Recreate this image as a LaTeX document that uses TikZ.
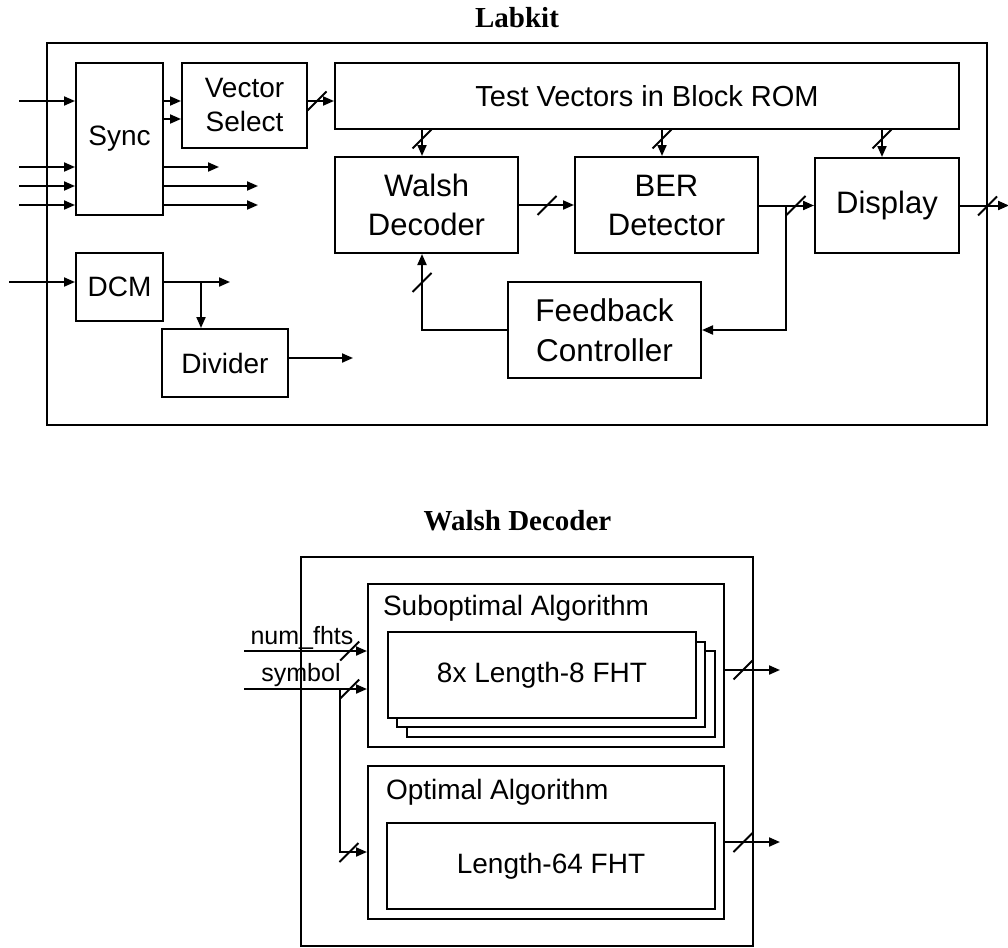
\documentclass[tikz,border=0pt]{standalone}
\usepackage{fontspec}
\setmainfont{Liberation Sans}
\newfontfamily\serifttl{Liberation Serif}
\usetikzlibrary{arrows.meta}
\newcommand\busmark[2]{\draw (#1,#2) ++(-9.5,9.5) -- ++(19,-19);}
\begin{document}
\begin{tikzpicture}[x=1pt,y=-1pt, line width=2pt,
  box/.style={draw, inner sep=0pt, align=center, fill=white},
  frame/.style={draw, inner sep=0pt},
  sig/.style={-{Triangle[length=11pt,width=9pt]}},
  ttl/.style={font=\serifttl\bfseries\fontsize{29}{34}\selectfont, anchor=base},
  f28/.style={font=\fontsize{28}{34}\selectfont},
  f31/.style={font=\fontsize{31}{39}\selectfont},
  lbl/.style={font=\fontsize{25}{30}\selectfont, anchor=base}]
\useasboundingbox (0,0) rectangle (1008,947);

% ---------------- Labkit ----------------
\node[ttl] (t1) at (517,28) {Labkit};
\node[frame, minimum width=940pt, minimum height=382pt] (labkit) at (517,234) {};

\node[box, f28, minimum width=87pt, minimum height=152pt] (sync) at (119.5,139) {Sync};
\node[box, f28, minimum width=125pt, minimum height=85pt] (vsel) at (244.5,105.5) {Vector\\Select};
\node[box, font=\fontsize{29}{34}\selectfont, minimum width=624pt, minimum height=66pt] (rom) at (647,96) {Test Vectors in Block ROM};
\node[box, f31, minimum width=183pt, minimum height=96pt] (walsh) at (426.5,205) {Walsh\\Decoder};
\node[box, f31, minimum width=183pt, minimum height=96pt] (ber) at (666.5,205) {BER\\Detector};
\node[box, f31, minimum width=144pt, minimum height=95pt] (disp) at (887,205.5) {Display};
\node[box, font=\fontsize{31.5}{40}\selectfont, minimum width=193pt, minimum height=96pt] (fb) at (604.5,330) {Feedback\\Controller};
\node[box, f28, minimum width=87pt, minimum height=68pt] (dcm) at (119.5,287) {DCM};
\node[box, f28, minimum width=126pt, minimum height=68pt] (div) at (225,363) {Divider};

% free ends
\coordinate (in1) at (19,101);
\coordinate (in2) at (19,167);
\coordinate (in3) at (19,186);
\coordinate (in4) at (19,205);
\coordinate (o1) at (219,167);
\coordinate (o2) at (258,186);
\coordinate (o3) at (258,205);
\coordinate (dcmin) at (9,282);
\coordinate (dcmout) at (230,282);
\coordinate (dcmbr) at (201,282);
\coordinate (divout) at (353,358);
\coordinate (br) at (786,205.5);
\coordinate (dispout) at (1009,205.5);

\draw[sig] (in1) -- (sync.west |- in1);
\draw[sig] (in2) -- (sync.west |- in2);
\draw[sig] (in3) -- (sync.west |- in3);
\draw[sig] (in4) -- (sync.west |- in4);
\draw[sig] (sync.east |- o1) -- (o1);
\draw[sig] (sync.east |- o2) -- (o2);
\draw[sig] (sync.east |- o3) -- (o3);
\draw[sig] (sync.east |- 0,101) -- (vsel.west |- 0,101);
\draw[sig] (sync.east |- 0,119) -- (vsel.west |- 0,119);

\draw[sig] (vsel.east |- 0,101) -- (rom.west |- 0,101);
\busmark{317}{101}
\draw[sig] (rom.south -| 422,0) -- (walsh.north -| 422,0);
\busmark{422}{139}
\draw[sig] (rom.south -| 662,0) -- (ber.north -| 662,0);
\busmark{662}{139}
\draw[sig] (rom.south -| 882,0) -- (disp.north -| 882,0);
\busmark{882}{139}

\draw[sig] (walsh.east) -- (ber.west);
\busmark{547}{205.5}
\draw[sig] (ber.east |- br) -- (disp.west |- br);
\busmark{796}{205.5}
\draw[sig] (br) |- (fb.east);
\draw[sig] (fb.west) -| (walsh.south -| 422,0);
\busmark{422}{282.5}
\draw[sig] (disp.east |- dispout) -- (dispout);
\busmark{987.5}{206}

\draw[sig] (dcmin) -- (dcm.west |- dcmin);
\draw[sig] (dcm.east |- dcmout) -- (dcmout);
\draw[sig] (dcmbr) -- (div.north -| dcmbr);
\draw[sig] (div.east |- divout) -- (divout);

% ---------------- Walsh Decoder ----------------
\node[ttl] (t2) at (517.5,530) {Walsh Decoder};
\node[frame, minimum width=452pt, minimum height=389pt] (wd) at (527,751) {};

\node[box, minimum width=356pt, minimum height=163pt] (sub) at (546,665.5) {};
\node[f28, anchor=west, inner sep=0pt] (sublbl) at (382,608) {Suboptimal Algorithm};
\node[box, minimum width=308pt, minimum height=86pt] (fht3) at (561,694) {};
\node[box, minimum width=308pt, minimum height=85pt] (fht2) at (551,684.5) {};
\node[box, f28, minimum width=308pt, minimum height=86pt] (fht1) at (542,675) {8x Length-8 FHT};

\node[box, minimum width=356pt, minimum height=153pt] (opt) at (546,842.5) {};
\node[f28, anchor=west, inner sep=0pt] (optlbl) at (385,792) {Optimal Algorithm};
\node[box, f28, minimum width=328pt, minimum height=86pt] (l64) at (551,866) {Length-64 FHT};

\coordinate (nf) at (244,651);
\coordinate (sy) at (244,689);
\coordinate (sybr) at (340,689);
\coordinate (subout) at (780,670);
\coordinate (optout) at (780,842);

\draw[sig] (nf) -- (sub.west |- nf);
\busmark{349.7}{651}
\draw[sig] (sy) -- (sub.west |- sy);
\busmark{349.7}{689}
\draw[sig] (sybr) |- (opt.west |- 0,852);
\busmark{349}{852.5}
\draw[sig] (sub.east |- subout) -- (subout);
\busmark{743}{670}
\draw[sig] (opt.east |- optout) -- (optout);
\busmark{743}{842.5}

\node[lbl] (nflbl) at (302,644) {num\_fhts};
\node[lbl] (sylbl) at (301,681) {symbol};
\end{tikzpicture}
\end{document}
